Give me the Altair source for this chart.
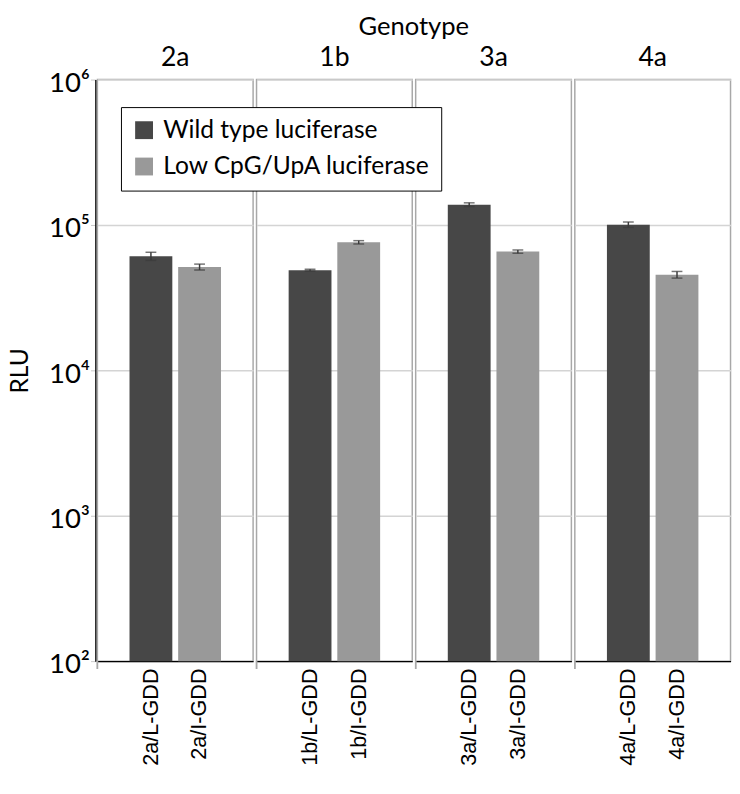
import altair as alt
import pandas as pd

genotypes = ["2a", "2a", "1b", "1b", "3a", "3a", "4a", "4a"]
constructs = ["2a/L-GDD", "2a/I-GDD", "1b/L-GDD", "1b/I-GDD",
              "3a/L-GDD", "3a/I-GDD", "4a/L-GDD", "4a/I-GDD"]
luciferase = ["Wild type luciferase", "Low CpG/UpA luciferase"] * 4
rlu = [61000, 51400, 48900, 76000, 138000, 65600, 100500, 45500]
err = [3900, 2400, 700, 2000, 4000, 1700, 4300, 2400]

genotype_order = ["2a", "1b", "3a", "4a"]
luciferase_order = ["Wild type luciferase", "Low CpG/UpA luciferase"]

df = pd.DataFrame({
    "genotype": genotypes,
    "construct": constructs,
    "luciferase": luciferase,
    "rlu": rlu,
    "err": err,
})
df["lo"] = df["rlu"] - df["err"]
df["hi"] = df["rlu"] + df["err"]
df["base"] = 100

FONT = "Lato"
H = 592
W = 158.5

x_enc = alt.X("construct:N", sort=constructs, title=None,
              scale=alt.Scale(paddingInner=0.12, paddingOuter=0.66),
              axis=alt.Axis(labelAngle=270, labelFont="Liberation Sans",
                            labelFontSize=22, labelColor="black",
                            labelPadding=7, ticks=False,
                            domainColor="black", domainWidth=1.5))

y_enc = alt.Y("rlu:Q", title="RLU",
              scale=alt.Scale(type="log", domain=[100, 1000000], nice=False),
              axis=alt.Axis(values=[100, 1000, 10000, 100000, 1000000],
                            labelExpr="'10' + ['⁰','¹','²','³','⁴','⁵','⁶'][round(log(datum.value)/LN10)]",
                            labelFont=FONT, labelFontSize=28, labelColor="black",
                            labelOffset=4,
                            titleFont=FONT, titleFontSize=25, titleFontWeight="normal",
                            titleColor="black", titleAngle=270,
                            titleX=-89, titleY=H / 2, titleAlign="center",
                            titleBaseline="top",
                            domainColor="black", domainWidth=1.5,
                            tickColor="#c8c8c8", tickSize=5, labelPadding=1,
                            gridColor="#d4d4d4", gridWidth=1.5))

bars = alt.Chart().mark_bar().encode(
    x=x_enc,
    y=y_enc,
    y2=alt.Y2("base:Q"),
    color=alt.Color("luciferase:N", sort=luciferase_order,
                    scale=alt.Scale(domain=luciferase_order,
                                    range=["#474747", "#999999"]),
                    legend=alt.Legend(title=None, orient="none",
                                      legendX=24, legendY=28,
                                      strokeColor="black", fillColor="white",
                                      padding=11, symbolType="square",
                                      symbolSize=330, symbolStrokeWidth=0,
                                      labelFont=FONT, labelFontSize=25,
                                      labelOffset=7,
                                      labelColor="black", rowPadding=11,
                                      labelLimit=400)),
)

rule = alt.Chart().mark_rule(color="#3a3a3a", strokeWidth=1.5).encode(
    x=alt.X("construct:N", sort=constructs),
    y=alt.Y("lo:Q"),
    y2=alt.Y2("hi:Q"),
)
cap_lo = alt.Chart().mark_tick(color="#3a3a3a", size=11, thickness=1.5).encode(
    x=alt.X("construct:N", sort=constructs),
    y=alt.Y("lo:Q"),
)
cap_hi = alt.Chart().mark_tick(color="#3a3a3a", size=11, thickness=1.5).encode(
    x=alt.X("construct:N", sort=constructs),
    y=alt.Y("hi:Q"),
)
sep_tick = alt.Chart().mark_rule(color="#a8a8a8", strokeWidth=1.5).encode(
    x=alt.value(0), y=alt.value(H), y2=alt.value(H + 8),
)

layered = alt.layer(bars, rule, cap_lo, cap_hi, sep_tick, data=df).properties(
    width=W, height=H)

chart = layered.facet(
    column=alt.Column("genotype:N", sort=genotype_order,
                      header=alt.Header(title="Genotype", titleFont=FONT,
                                        titleFontSize=26, titleFontWeight="normal",
                                        titleColor="black", titlePadding=-6,
                                        labelFont=FONT, labelFontSize=27,
                                        labelColor="black", labelPadding=7)),
    spacing=0,
).resolve_scale(x="independent").configure_view(
    stroke="#a8a8a8", strokeWidth=1.5
).properties(padding=0)

chart.save("out.html", embed_options={"renderer": "svg", "actions": False})
